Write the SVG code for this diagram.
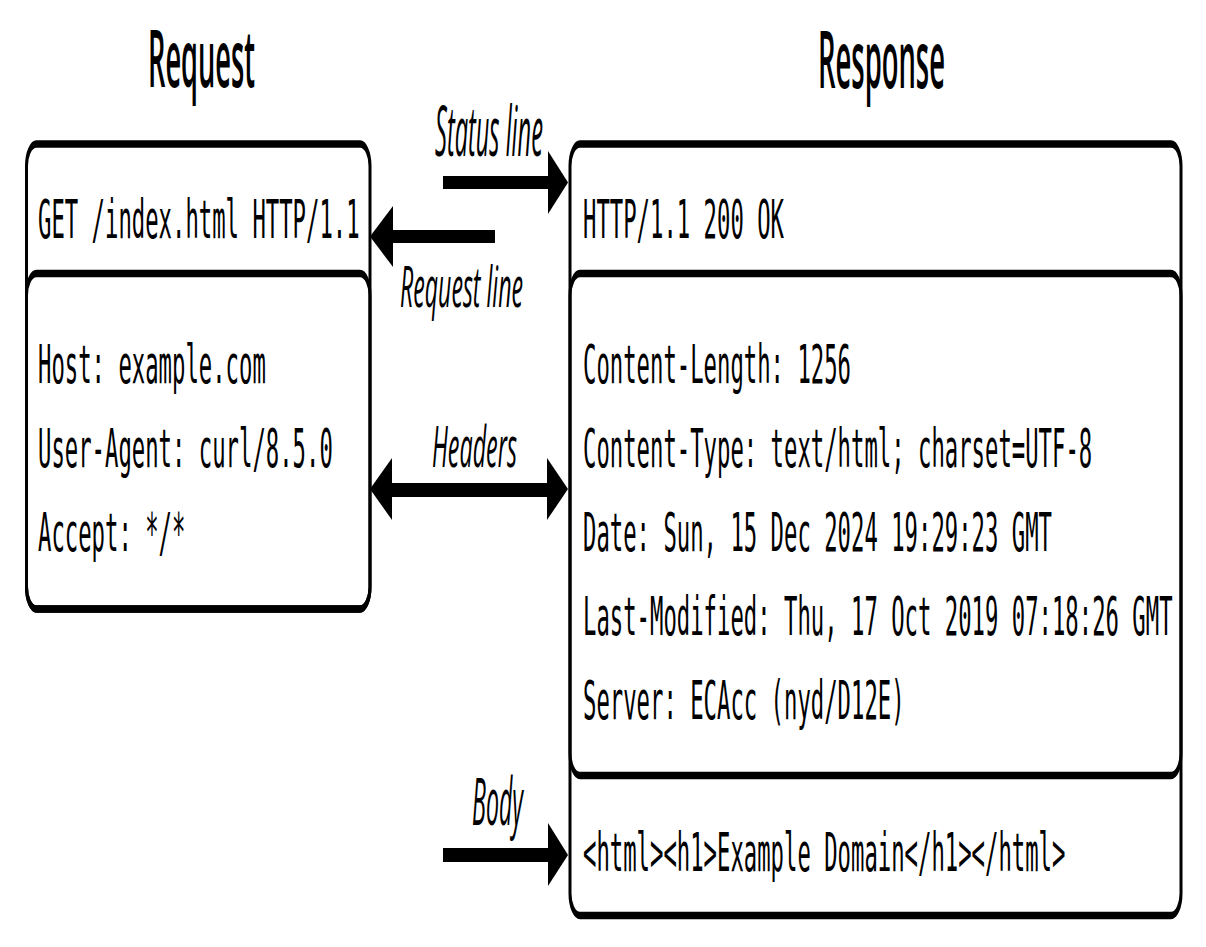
<svg xmlns="http://www.w3.org/2000/svg" width="1206" height="947" viewBox="0 0 1206 947">
<style>
.box{fill:none;stroke:#000;stroke-width:7.5}
.title{font-family:"Open Sans","Noto Sans","DejaVu Sans",sans-serif;font-weight:600;font-size:80px;fill:#000}
.lbl{font-family:"Open Sans","Noto Sans","DejaVu Sans",sans-serif;font-style:italic;fill:#000}
.mono{font-family:"DejaVu Sans Mono","Liberation Mono",monospace;font-size:54px;fill:#000}
.arr{fill:#000}
</style>
<rect width="1206" height="947" fill="#fff"/>
<g id="title-request"><text class="title" transform="translate(148 87) scale(0.5 1)" textLength="214" lengthAdjust="spacingAndGlyphs">Request</text></g>
<g id="title-response"><text class="title" transform="translate(818 88) scale(0.5 1)" textLength="254" lengthAdjust="spacingAndGlyphs">Response</text></g>

<g id="request">
<g transform="scale(0.4 1)">
<rect class="box" x="66.25" y="144" width="858.75" height="465" rx="25" ry="22"/>
<rect class="box" x="66.25" y="273.5" width="858.75" height="335.5" rx="25" ry="22"/>
</g>
<text class="mono" transform="translate(38 238) scale(0.412 1)" textLength="780.6" lengthAdjust="spacingAndGlyphs">GET /index.html HTTP/1.1</text>
<text class="mono" transform="translate(38 383) scale(0.412 1)" textLength="552.9" lengthAdjust="spacingAndGlyphs">Host: example.com</text>
<text class="mono" transform="translate(38 467) scale(0.412 1)" textLength="715.5" lengthAdjust="spacingAndGlyphs">User-Agent: curl/8.5.0</text>
<text class="mono" transform="translate(38 551) scale(0.412 1)" textLength="357.8" lengthAdjust="spacingAndGlyphs">Accept: */*</text>
</g>

<g id="response">
<g transform="scale(0.4 1)">
<rect class="box" x="1425" y="144" width="1527.5" height="771.5" rx="25" ry="22"/>
<rect class="box" x="1425" y="273.5" width="1527.5" height="502" rx="25" ry="22"/>
</g>
<text class="mono" transform="translate(583 238) scale(0.412 1)" textLength="487.9" lengthAdjust="spacingAndGlyphs">HTTP/1.1 200 OK</text>
<text class="mono" transform="translate(583 383) scale(0.412 1)" textLength="650.5" lengthAdjust="spacingAndGlyphs">Content-Length: 1256</text>
<text class="mono" transform="translate(583 467) scale(0.412 1)" textLength="1236" lengthAdjust="spacingAndGlyphs">Content-Type: text/html; charset=UTF-8</text>
<text class="mono" transform="translate(583 551) scale(0.412 1)" textLength="1138.3" lengthAdjust="spacingAndGlyphs">Date: Sun, 15 Dec 2024 19:29:23 GMT</text>
<text class="mono" transform="translate(583 635) scale(0.412 1)" textLength="1431" lengthAdjust="spacingAndGlyphs">Last-Modified: Thu, 17 Oct 2019 07:18:26 GMT</text>
<text class="mono" transform="translate(583 719) scale(0.412 1)" textLength="780.6" lengthAdjust="spacingAndGlyphs">Server: ECAcc (nyd/D12E)</text>
<text class="mono" transform="translate(583 871) scale(0.412 1)" textLength="1170.9" lengthAdjust="spacingAndGlyphs">&lt;html&gt;&lt;h1&gt;Example Domain&lt;/h1&gt;&lt;/html&gt;</text>
</g>

<g id="connectors">
<g id="status-line">
<rect class="arr" x="443" y="176" width="107" height="13"/>
<polygon class="arr" points="548,151 568,182.5 548,214"/>
<text class="lbl" transform="translate(435 156) scale(0.33 1)" font-size="70" textLength="327" lengthAdjust="spacingAndGlyphs">Status line</text>
</g>
<g id="request-line">
<rect class="arr" x="391" y="230" width="104" height="13"/>
<polygon class="arr" points="393,206 370,236.5 393,267"/>
<text class="lbl" transform="translate(400 307) scale(0.4 1)" font-size="56" textLength="307.5" lengthAdjust="spacingAndGlyphs">Request line</text>
</g>
<g id="headers">
<rect class="arr" x="390" y="483" width="160" height="14"/>
<polygon class="arr" points="392,458 370,489 392,520"/>
<polygon class="arr" points="547,458 568,489 547,520"/>
<text class="lbl" transform="translate(432 466.5) scale(0.4 1)" font-size="56" textLength="212.5" lengthAdjust="spacingAndGlyphs">Headers</text>
</g>
<g id="body">
<rect class="arr" x="443" y="848" width="107" height="14"/>
<polygon class="arr" points="548,823 568,855 548,886"/>
<text class="lbl" transform="translate(472 825) scale(0.4 1)" font-size="66" textLength="127.5" lengthAdjust="spacingAndGlyphs">Body</text>
</g>
</g>
</svg>
